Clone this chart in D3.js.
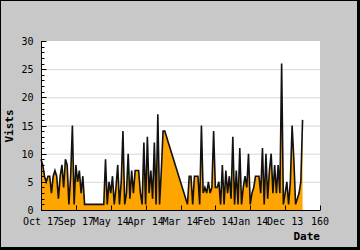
<!DOCTYPE html>
<html>
<head>
<meta charset="utf-8">
<script src="https://cdn.jsdelivr.net/npm/d3@7"></script>
<style>
body { margin: 0; }
text { font-family: "DejaVu Sans Mono", monospace; font-size: 10px; fill: #000; }
</style>
</head>
<body>
<script>
// visits per day
var visits = [9, 8, 6, 5, 6, 6, 3, 6, 7, 6, 2, 6, 8, 4, 9, 8, 1, 6, 15, 1,
    8, 5, 7, 3, 6, 1, 1, 1, 1, 1, 1, 1, 1, 1, 1, 1, 1, 9, 1, 5,
    3, 6, 1, 4, 8, 1, 5, 14, 1, 3, 10, 2, 7, 3, 7, 7, 7, 3, 1, 12,
    1, 13, 3, 7, 2, 12, 1, 17, 1, 7, 14, 14, 13, 12, 11, 10, 9, 8, 7, 6,
    5, 4, 3, 2, 1, 6, 6, 1, 6, 6, 6, 1, 15, 3, 4, 3, 5, 3, 4, 14,
    4, 4, 5, 1, 8, 1, 7, 3, 6, 2, 13, 1, 7, 1, 11, 1, 4, 6, 4, 10,
    1, 3, 4, 6, 6, 6, 3, 11, 1, 10, 2, 7, 10, 3, 8, 3, 8, 3, 26, 1,
    3, 5, 1, 5, 15, 9, 1, 2, 3, 5, 16];
var xTicks = [0, 20, 40, 60, 80, 100, 120, 140, 160];
var xLabels = ['Oct 17', 'Sep 17', 'May 14', 'Apr 14', 'Mar 14', 'Feb 14', 'Jan 14', 'Dec 13', '160'];
var yTicks = [0, 5, 10, 15, 20, 25, 30];

var svg = d3.select('body').append('svg').attr('width', 360).attr('height', 250);

svg.append('rect').attr('width', 360).attr('height', 250).attr('fill', '#000');
svg.append('rect').attr('x', 1).attr('y', 1).attr('width', 356).attr('height', 246).attr('fill', '#c8c8c8');

var x = d3.scaleLinear().domain([0, 160]).range([41, 320]);
var y = d3.scaleLinear().domain([0, 30]).range([210, 41]);

svg.append('rect').attr('x', x(0)).attr('y', y(30))
    .attr('width', x(160) - x(0)).attr('height', y(0) - y(30)).attr('fill', '#fff');

// grid
svg.selectAll('.grid').data(yTicks.slice(1, -1)).enter().append('line')
    .attr('x1', x(0)).attr('x2', x(160))
    .attr('y1', d => y(d) + 0.5).attr('y2', d => y(d) + 0.5)
    .attr('stroke', '#d8d8d8');

var area = d3.area().x((d, i) => x(i)).y0(y(0)).y1(d => y(d));
var line = d3.line().x((d, i) => x(i)).y(d => y(d));

svg.append('path').datum(visits).attr('d', area).attr('fill', '#ffa500');
svg.append('path').datum(visits).attr('d', line)
    .attr('fill', 'none').attr('stroke', '#111').attr('stroke-width', 1.6);

// y axis, ticks pointing inward
var yAxis = svg.append('g').attr('transform', 'translate(' + (x(0) + 0.5) + ',0)');
yAxis.append('line').attr('y1', y(30)).attr('y2', y(0)).attr('stroke', '#000');
yAxis.selectAll('.minor').data(d3.range(0, 31)).enter().append('line')
    .attr('x1', 0).attr('x2', d => d % 5 === 0 ? 5 : 3)
    .attr('y1', d => Math.round(y(d)) + 0.5).attr('y2', d => Math.round(y(d)) + 0.5)
    .attr('stroke', '#000');
yAxis.selectAll('text').data(yTicks).enter().append('text')
    .attr('x', -8).attr('y', d => y(d) + 4)
    .attr('text-anchor', 'end').text(d => d);

// x axis
var xAxis = svg.append('g').attr('transform', 'translate(0,' + (y(0) + 0.5) + ')');
xAxis.append('line').attr('x1', x(0)).attr('x2', x(160)).attr('stroke', '#000');
xAxis.selectAll('.tick').data(xTicks).enter().append('line')
    .attr('x1', d => Math.round(x(d)) + 0.5).attr('x2', d => Math.round(x(d)) + 0.5)
    .attr('y1', 0).attr('y2', -5).attr('stroke', '#000');
xAxis.selectAll('text').data(xTicks).enter().append('text')
    .attr('x', d => x(d)).attr('y', 14)
    .attr('text-anchor', 'middle').text((d, i) => xLabels[i]);

svg.append('text').attr('x', 320).attr('y', 240).attr('text-anchor', 'end')
    .attr('font-weight', 'bold').style('font-size', '11px').text('Date');
svg.append('text').attr('transform', 'translate(13,126) rotate(-90)')
    .attr('text-anchor', 'middle').attr('font-weight', 'bold').style('font-size', '11px').text('Vists');
</script>
</body>
</html>
